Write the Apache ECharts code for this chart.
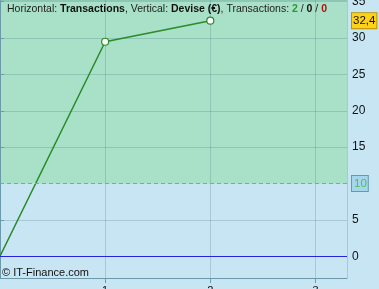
<!DOCTYPE html>
<html><head><meta charset="utf-8">
<script src="https://cdn.jsdelivr.net/npm/echarts@6/dist/echarts.min.js"></script>
<style>html,body{margin:0;padding:0;background:#c7e5f2;}#c{width:379px;height:289px;}</style>
</head><body><div id="c"></div>
<script>
var xValues = [0, 1, 2];
var yValues = [0, 29.5, 32.4];
var xTicks = [1, 2, 3];
var yTicks = [0, 5, 10, 15, 20, 25, 30, 35];
var threshold = 10;
var baseline = 0;
var counts = [2, 0, 0];

var chart = echarts.init(document.getElementById('c'), null, {renderer: 'canvas'});
var last = yValues[yValues.length - 1];
var yMax = 35.24;
var lineData = xValues.map(function (x, i) {
  return i === 0 ? {value: [x, yValues[i]], symbol: 'none'} : [x, yValues[i]];
});
var font = 'Liberation Sans, Arial, sans-serif';
chart.setOption({
  backgroundColor: '#c7e5f2',
  animation: false,
  title: {
    left: 2, top: -1,
    text: 'Horizontal: {b|Transactions}, Vertical: {b|Devise (€)}, Transactions: {g|' + counts[0] + '} / {k|' + counts[1] + '} / {r|' + counts[2] + '}',
    textStyle: {
      fontFamily: font, fontSize: 10.5, fontWeight: 'normal', color: '#222',
      rich: {
        b: {fontFamily: font, fontSize: 10.5, fontWeight: 'bold', color: '#111'},
        g: {fontFamily: font, fontSize: 10.5, fontWeight: 'bold', color: '#2a9a2a'},
        k: {fontFamily: font, fontSize: 10.5, fontWeight: 'bold', color: '#111'},
        r: {fontFamily: font, fontSize: 10.5, fontWeight: 'bold', color: '#b01010'}
      }
    }
  },
  graphic: [{
    type: 'text', left: 2, top: 267, z: 100,
    style: {text: '© IT-Finance.com', font: '11px ' + font, fill: '#111'}
  }],
  grid: {left: 0, right: 32, top: 0, bottom: 11, containLabel: false, outerBoundsMode: 'none'},
  xAxis: {
    type: 'value', min: 0, max: 3.3, interval: 1, z: 3,
    axisLine: {show: true, onZero: false, lineStyle: {color: '#6d9aaa', width: 1}},
    axisTick: {show: true, length: 5, lineStyle: {color: '#6d9aaa'}},
    axisLabel: {
      showMinLabel: false, showMaxLabel: false, margin: 7, color: '#111', fontFamily: font, fontSize: 11,
      formatter: function (v) { return xTicks.indexOf(v) >= 0 ? String(v) : ''; }
    },
    splitLine: {show: true, lineStyle: {color: 'rgba(20,80,90,0.18)', width: 1}}
  },
  yAxis: {
    type: 'value', position: 'right', min: -3, max: yMax, splitNumber: 8, minInterval: 5, maxInterval: 5, z: 3,
    axisLine: {show: true, lineStyle: {color: '#6d9aaa', width: 1}},
    axisTick: {show: true, length: 4, lineStyle: {color: '#6d9aaa'}},
    axisLabel: {
      showMinLabel: false, showMaxLabel: false, margin: 5, color: '#111', fontFamily: font, fontSize: 12,
      formatter: function (v) { return yTicks.indexOf(v) >= 0 ? String(v) : ''; }
    },
    splitLine: {show: true, lineStyle: {color: 'rgba(20,80,90,0.18)', width: 1}}
  },
  series: [{
    type: 'line', z: 1, data: [], silent: true,
    markArea: {
      silent: true,
      itemStyle: {color: '#a8e1c8'},
      data: [[{yAxis: threshold}, {yAxis: yMax}]]
    }
  }, {
    type: 'line', z: 5, data: lineData,
    lineStyle: {color: '#2a8a2a', width: 1.5},
    itemStyle: {color: '#ffffff', borderColor: '#2a8a2a', borderWidth: 1.2},
    symbol: 'circle', symbolSize: 7, showSymbol: true,
    markLine: {
      silent: true, symbol: 'none', animation: false, z: 6, zlevel: 1,
      data: [
        {yAxis: threshold, lineStyle: {color: '#b4e2d8', type: 'solid', width: 1}, label: {show: false}},
        {yAxis: threshold, lineStyle: {color: '#55cc55', type: [4, 3], width: 1},
          label: {show: true, position: 'end', distance: 5, formatter: String(threshold), color: '#4cc24c',
            fontFamily: font, fontSize: 11.5, backgroundColor: '#a6d6ec', borderColor: '#6a98ae', borderWidth: 1,
            padding: [2, 1, 1, 2]}},
        {yAxis: baseline, lineStyle: {color: '#2424e0', type: 'solid', width: 1},
          label: {show: false}},
        {yAxis: last, lineStyle: {color: 'rgba(0,0,0,0)', width: 1},
          label: {show: true, position: 'end', distance: 5, formatter: String(last).replace('.', ','), color: '#111',
            fontFamily: font, fontSize: 11.5, backgroundColor: '#ffd21a', borderColor: '#b89400', borderWidth: 1,
            padding: [2, 1, 1, 1]}}
      ]
    }
  }]
});
</script></body></html>
